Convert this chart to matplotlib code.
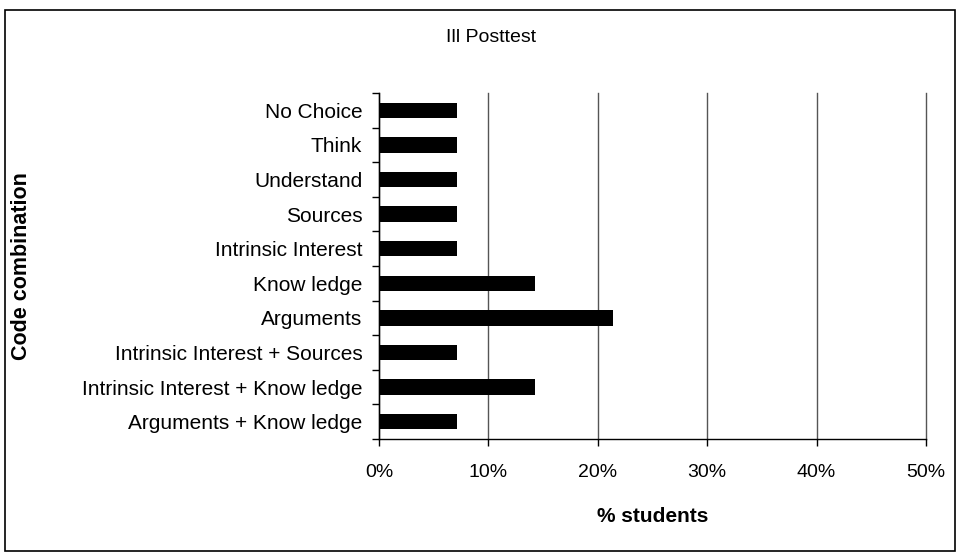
import numpy as np
import matplotlib.pyplot as plt
from matplotlib.patches import Rectangle
from matplotlib.ticker import FixedLocator, PercentFormatter

plt.rcParams['font.family'] = ['Liberation Sans', 'DejaVu Sans']

# datos (de arriba hacia abajo)
categorias = ["No Choice", "Think", "Understand", "Sources", "Intrinsic Interest",
              "Know ledge", "Arguments", "Intrinsic Interest + Sources",
              "Intrinsic Interest + Know ledge", "Arguments + Know ledge"]
porcentajes = [7.14, 7.14, 7.14, 7.14, 7.14, 14.29, 21.43, 7.14, 14.29, 7.14]
ticks_x = [0, 10, 20, 30, 40, 50]

fig = plt.figure(figsize=(9.57, 5.52), dpi=100)
ax = fig.add_axes([379/957, 1 - 439/552, (926-379)/957, (439-93)/552])

# marco exterior
fig.patches.append(Rectangle((5/957, 1/552), 950/957, 541/552, transform=fig.transFigure,
                             fill=False, edgecolor='black', linewidth=1.2))

y = np.arange(len(categorias))
ax.barh(y, porcentajes, height=0.45, color='black', zorder=3)
ax.set_ylim(len(categorias) - 0.5, -0.5)
ax.set_xlim(0, 50)

ax.set_yticks(y)
ax.set_yticklabels(categorias, fontsize=15)
ax.yaxis.set_minor_locator(FixedLocator(np.arange(-0.5, len(categorias), 1)))
ax.tick_params(axis='y', which='major', length=0, pad=12)
ax.tick_params(axis='y', which='minor', length=5, width=1, direction='out')

ax.set_xticks(ticks_x)
ax.xaxis.set_major_formatter(PercentFormatter(decimals=0))
ax.tick_params(axis='x', length=5, width=1, labelsize=14, pad=13)
ax.grid(axis='x', color='#555555', linewidth=1, zorder=0)
for linea in ax.get_xgridlines():
    linea.set_clip_on(False)

for lado in ['top', 'right']:
    ax.spines[lado].set_visible(False)
ax.spines['left'].set_linewidth(1)
ax.spines['bottom'].set_linewidth(1)

ax.set_xlabel("% students", fontsize=15, fontweight='bold', labelpad=19)
ax.set_ylabel("Code combination", fontsize=15.5, fontweight='bold')
ax.yaxis.set_label_coords((32 - 379)/547, 0.5)
fig.text(491/957, 1 - 38/552, "Ill Posttest", ha='center', va='center', fontsize=14)

fig.savefig("out.png", dpi=100)
